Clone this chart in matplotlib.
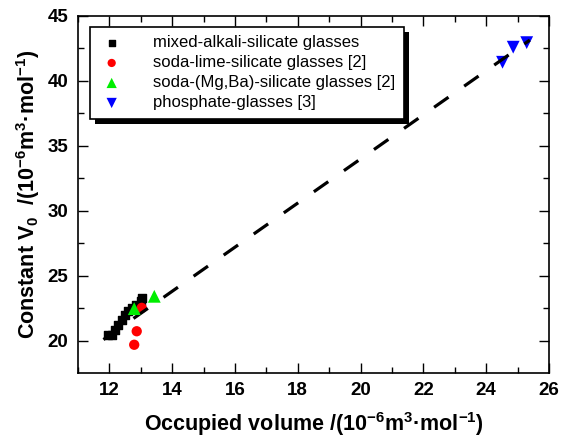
import matplotlib
matplotlib.use("Agg")
import matplotlib.pyplot as plt
from matplotlib.ticker import MultipleLocator
from matplotlib.patches import Rectangle
from matplotlib.transforms import IdentityTransform

plt.rcParams['font.family'] = ['Liberation Sans', 'DejaVu Sans']
plt.rcParams['mathtext.fontset'] = 'custom'
plt.rcParams['mathtext.rm'] = 'Liberation Sans:bold'
plt.rcParams['mathtext.it'] = 'Liberation Sans:bold'
plt.rcParams['mathtext.bf'] = 'Liberation Sans:bold'

# Data
mixed_x = [11.95, 12.07, 12.18, 12.27, 12.39, 12.50, 12.59, 12.71, 12.85, 13.0, 13.03]
mixed_y = [20.48, 20.48, 20.87, 21.25, 21.64, 22.02, 22.28, 22.56, 22.75, 23.05, 23.3]
sodalime_x = [12.79, 12.87, 13.03]
sodalime_y = [19.7, 20.74, 22.54]
mgba_x = [12.79, 13.43]
mgba_y = [22.48, 23.43]
phos_x = [24.52, 24.86, 25.29]
phos_y = [41.44, 42.6, 42.95]
fit_x = [11.81, 25.39]
fit_y = [20.1, 43.15]

labels = ['mixed-alkali-silicate glasses', 'soda-lime-silicate glasses [2]',
          'soda-(Mg,Ba)-silicate glasses [2]', 'phosphate-glasses [3]']

fig = plt.figure(figsize=(5.63, 4.46), dpi=100)
ax = fig.add_axes([78/563, 1-372.7/446, (549-78)/563, (372.7-16)/446])

ax.plot(fit_x, fit_y, color='black', lw=2.3, linestyle=(0, (5.5, 6.0)), zorder=3)
ax.scatter(mixed_x, mixed_y, marker='s', s=30, color='black', label=labels[0], zorder=2)
ax.scatter(sodalime_x, sodalime_y, marker='o', s=55, color='#ff0000', edgecolors='none', label=labels[1], zorder=2)
ax.scatter(mgba_x, mgba_y, marker='^', s=85, color='#00ee00', edgecolors='none', label=labels[2], zorder=4)
ax.scatter(phos_x, phos_y, marker='v', s=85, color='#0000ff', edgecolors='none', label=labels[3], zorder=2)

ax.set_xlim(11, 26)
ax.set_ylim(17.55, 45)
ax.xaxis.set_major_locator(MultipleLocator(2))
ax.xaxis.set_minor_locator(MultipleLocator(1))
ax.yaxis.set_major_locator(MultipleLocator(5))
ax.yaxis.set_minor_locator(MultipleLocator(2.5))
ax.tick_params(which='both', direction='in', top=True, right=True, width=1)
ax.tick_params(which='major', length=7, labelsize=13.5, pad=7)
ax.tick_params(which='minor', length=4)
for lab in ax.get_xticklabels() + ax.get_yticklabels():
    lab.set_fontweight('bold')
for sp in ax.spines.values():
    sp.set_linewidth(1.2)

ax.set_xlabel('Occupied volume /(10$^{-6}$m$^{3}$' + '\u00b7' + 'mol$^{-1}$)',
              fontsize=15.5, fontweight='bold', labelpad=8)
ax.set_ylabel('Constant V$_{0}$  /(10$^{-6}$m$^{3}$' + '\u00b7' + 'mol$^{-1}$)',
              fontsize=15.5, fontweight='bold', labelpad=4)

leg = ax.legend(loc='upper left', bbox_to_anchor=((90-78)/471, 1-(27-16)/356.7),
                frameon=True, fancybox=False, shadow=False, framealpha=1,
                fontsize=12, handletextpad=1.7, labelspacing=0.3, borderpad=0.5,
                markerscale=0.8, handlelength=1.6, borderaxespad=0)
leg.get_frame().set_edgecolor('black')
leg.get_frame().set_linewidth(1.2)
leg.set_zorder(10)

fig.canvas.draw()
bb = leg.get_window_extent()
shadow = Rectangle((bb.x0 + 5, bb.y0 - 5), bb.width, bb.height, transform=IdentityTransform(),
                   facecolor='black', edgecolor='none', zorder=9, clip_on=False)
ax.add_artist(shadow)

fig.savefig('out.png', dpi=100)
